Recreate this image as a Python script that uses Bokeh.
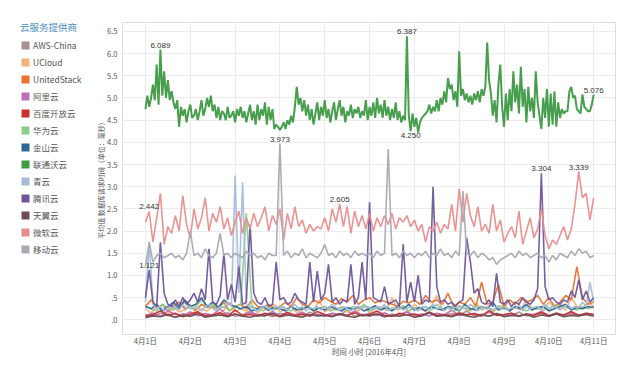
import numpy as np
from bokeh.plotting import figure
from bokeh.layouts import row
from bokeh.models import Legend, LegendItem, FixedTicker, Range1d
from bokeh.embed import file_html
from bokeh.resources import INLINE
from bokeh.core.properties import value

FONT = "Noto Sans CJK SC"

# ---------------- data ----------------
day_hours = [0, 24, 48, 72, 96, 120, 144, 168, 192, 216, 240]
day_labels = ["4月1日", "4月2日", "4月3日", "4月4日", "4月5日", "4月6日",
              "4月7日", "4月8日", "4月9日", "4月10日", "4月11日"]
y_ticks = [0, 0.5, 1.0, 1.5, 2.0, 2.5, 3.0, 3.5, 4.0, 4.5, 5.0, 5.5, 6.0, 6.5]
y_tick_labels = [".0", ".5", "1.0", "1.5", "2.0", "2.5", "3.0", "3.5", "4.0",
                 "4.5", "5.0", "5.5", "6.0", "6.5"]

providers = ["AWS-China", "UCloud", "UnitedStack", "阿里云", "百度开放云", "华为云",
             "金山云", "联通沃云", "青云", "腾讯云", "天翼云", "微软云", "移动云"]
colors = ["#a88f8f", "#f4b27f", "#e8742f", "#c06cc0", "#c8302c", "#8ccf8c",
          "#2f6693", "#3d9a45", "#a5bcd8", "#6f559c", "#6e4e52", "#ea8d8d", "#a9a9b3"]

# every 4 hours
aws_china = [0.12, 0.08, 0.15, 0.1, 0.06, 0.14, 0.09, 0.18, 0.07, 0.12, 0.1, 0.16, 0.08, 0.11, 0.2, 0.09,
             0.13, 0.07, 0.15, 0.1, 0.12, 0.08, 0.17, 0.11, 0.09, 0.14, 0.1, 0.22, 0.08, 0.12, 0.1, 0.15,
             0.07, 0.13, 0.1, 0.18, 0.09, 0.12, 0.16, 0.08, 0.11, 0.14, 0.1, 0.2, 0.09, 0.13, 0.08, 0.15,
             0.11, 0.1, 0.17, 0.09, 0.12, 0.14, 0.08, 0.16, 0.1, 0.13, 0.09, 0.15, 0.12]
# every 3 hours
ucloud = [0.25, 0.15, 0.3, 0.2, 0.12, 0.28, 0.18, 0.22, 0.35, 0.15, 0.25, 0.2, 0.3, 0.14, 0.22, 0.4,
          0.18, 0.25, 0.2, 0.32, 0.15, 0.27, 0.2, 0.35, 0.18, 0.24, 0.3, 0.16, 0.22, 0.28, 0.2, 0.45,
          0.18, 0.25, 0.22, 0.3, 0.17, 0.26, 0.2, 0.33, 0.15, 0.25, 0.3, 0.2, 0.5, 0.22, 0.28, 0.18,
          0.35, 0.24, 0.2, 0.3, 0.55, 0.22, 0.27, 0.18, 0.32, 0.25, 0.2, 0.38, 0.22, 0.3, 0.18, 0.26,
          0.35, 0.2, 0.28, 0.22, 0.45, 0.25, 0.3, 0.2, 0.4, 0.28, 0.35, 0.22, 0.5, 0.3, 0.25, 0.4, 0.3]
unitedstack = [0.3, 0.45, 0.25, 0.35, 0.2, 0.3, 0.4, 0.25, 0.3, 0.22, 0.35, 0.28, 0.3, 0.25, 0.4, 0.2,
               0.3, 0.35, 0.25, 0.45, 0.3, 0.28, 0.35, 0.25, 0.3, 0.4, 0.3, 0.5, 0.35, 0.3, 0.45, 0.38,
               0.5, 0.42, 0.35, 0.48, 0.4, 0.55, 0.35, 0.45, 0.5, 0.38, 0.45, 0.4, 0.35, 0.3, 0.42, 0.38,
               0.45, 0.35, 0.55, 0.4, 0.45, 0.35, 0.6, 0.3, 0.4, 0.35, 0.5, 0.3, 0.85, 0.35, 0.4, 0.8,
               0.3, 0.45, 0.35, 0.5, 0.4, 0.45, 0.55, 0.35, 0.5, 0.3, 0.4, 0.55, 0.45, 1.2, 0.5, 0.35, 0.4]
# every 4 hours
aliyun = [0.1, 0.15, 0.08, 0.2, 0.12, 0.1, 0.18, 0.09, 0.14, 0.11, 0.25, 0.1, 0.13, 0.08, 0.16, 0.12,
          0.1, 0.19, 0.09, 0.14, 0.11, 0.17, 0.08, 0.13, 0.1, 0.15, 0.12, 0.09, 0.2, 0.11, 0.14, 0.1,
          0.16, 0.08, 0.12, 0.18, 0.1, 0.13, 0.09, 0.15, 0.11, 0.22, 0.1, 0.12, 0.14, 0.09, 0.17, 0.11,
          0.1, 0.15, 0.08, 0.13, 0.12, 0.19, 0.1, 0.14, 0.09, 0.16, 0.11, 0.13, 0.1]
baidu = [0.08, 0.12, 0.2, 0.1, 0.15, 0.07, 0.13, 0.18, 0.09, 0.11, 0.16, 0.08, 0.22, 0.1, 0.12, 0.09,
         0.15, 0.11, 0.08, 0.17, 0.1, 0.13, 0.09, 0.19, 0.12, 0.08, 0.14, 0.1, 0.16, 0.09, 0.12, 0.2,
         0.1, 0.08, 0.15, 0.11, 0.13, 0.09, 0.18, 0.1, 0.12, 0.08, 0.16, 0.11, 0.14, 0.09, 0.21, 0.1,
         0.12, 0.15, 0.08, 0.13, 0.1, 0.17, 0.09, 0.14, 0.11, 0.19, 0.1, 0.15, 0.12]
# every 3 hours
huawei = [0.3, 0.25, 0.2, 0.35, 0.28, 0.22, 0.3, 0.4, 0.25, 0.3, 0.45, 0.28, 0.35, 0.25, 0.3, 0.22,
          0.28, 0.35, 2.4, 0.3, 0.25, 0.2, 0.28, 0.22, 0.3, 0.25, 0.2, 0.28, 0.24, 0.3, 0.22, 0.26,
          0.3, 0.2, 0.25, 0.28, 0.22, 0.3, 0.25, 0.35, 0.2, 0.28, 0.24, 0.3, 0.22, 0.25, 0.32, 0.2,
          0.28, 0.25, 0.3, 0.22, 0.35, 0.25, 0.28, 0.2, 0.3, 0.26, 0.22, 0.3, 0.25, 0.28, 0.2, 0.32,
          0.25, 0.22, 0.3, 0.27, 0.2, 0.28, 0.24, 0.3, 0.22, 0.35, 0.25, 0.3, 0.28, 0.22, 0.3, 0.25, 0.3]
kingsoft = [0.3, 0.25, 0.35, 0.2, 0.3, 0.4, 0.25, 0.45, 0.3, 0.35, 0.5, 0.3, 0.4, 0.28, 0.45, 0.35,
            0.3, 0.25, 0.3, 0.2, 0.25, 0.3, 0.22, 0.28, 0.25, 0.2, 0.3, 0.22, 0.25, 0.3, 0.2, 0.27,
            0.22, 0.3, 0.25, 0.2, 0.28, 0.24, 0.3, 0.2, 0.25, 0.32, 0.22, 0.28, 0.2, 0.3, 0.25, 0.35,
            0.22, 0.28, 0.2, 0.3, 0.25, 0.22, 0.3, 0.27, 0.2, 0.35, 0.25, 0.22, 0.3, 0.25, 0.4, 0.22,
            0.28, 0.2, 0.3, 0.25, 0.35, 0.22, 0.28, 0.3, 0.2, 0.25, 0.3, 0.35, 0.22, 0.28, 0.25, 0.3, 0.28]
# every hour
unicom = [4.75, 5.05, 4.8, 5.0, 5.3, 4.95, 5.75, 4.85, 6.089, 5.05, 5.6, 5.0, 5.4,
          4.95, 5.15, 4.9, 4.75, 4.95, 4.35, 4.8, 4.6, 4.75, 4.45, 4.7, 4.85,
          4.55, 4.6, 4.75, 4.5, 4.7, 4.95, 4.6, 4.75, 5.0, 4.8, 5.05, 4.7,
          4.85, 4.55, 4.8, 4.5, 4.7, 4.65, 4.5, 4.8, 4.55, 4.6, 4.7, 4.45,
          4.75, 4.6, 4.8, 4.55, 4.7, 4.45, 4.65, 4.85, 4.5, 4.7, 4.4, 4.85,
          4.5, 4.75, 4.6, 4.9, 4.4, 4.8, 4.5, 4.75, 4.3, 4.4, 4.35, 4.28,
          4.35, 4.45, 4.3, 4.5, 4.4, 4.6, 4.45, 4.8, 5.25, 4.85, 5.0, 4.7,
          4.95, 4.6, 4.85, 4.5, 4.75, 4.4, 4.65, 4.9, 4.5, 4.8, 4.6, 4.95,
          4.55, 4.75, 4.45, 4.7, 4.9, 4.5, 4.75, 4.95, 4.6, 4.8, 4.45, 4.7,
          4.6, 4.85, 4.55, 4.75, 4.65, 4.8, 4.55, 4.7, 4.6, 4.95, 4.5, 4.8,
          4.6, 4.9, 4.55, 5.0, 4.65, 4.85, 4.55, 4.95, 4.6, 4.8, 4.5, 4.75,
          4.55, 4.9, 4.5, 4.7, 4.45, 4.6, 4.5, 6.387, 4.6, 4.25, 4.65, 4.35,
          4.55, 4.22, 4.45, 4.55, 4.6, 4.65, 4.7, 4.85, 4.65, 4.8, 4.7, 4.95,
          4.7, 5.0, 4.85, 5.15, 4.9, 5.45, 5.2, 5.3, 4.95, 5.15, 4.8, 6.05,
          5.05, 5.2, 4.95, 5.1, 4.9, 5.05, 4.85, 5.1, 4.95, 5.15, 4.9, 5.2,
          5.05, 5.25, 6.25, 5.4, 5.1, 4.6, 4.95, 4.45, 5.3, 5.75, 4.8, 4.35,
          5.1, 4.5, 5.2, 4.7, 5.6, 4.9, 5.3, 4.65, 5.7, 4.8, 5.2, 4.45,
          5.25, 4.7, 5.0, 4.55, 5.6, 4.9, 4.6, 4.3, 5.0, 4.55, 5.2, 4.35,
          5.1, 4.4, 5.15, 4.35, 4.9, 4.55, 4.75, 4.65, 4.7, 4.7, 5.15, 5.25,
          5.0, 5.05, 4.75, 4.7, 4.65, 5.08, 4.8, 4.75, 4.7, 4.7, 4.85, 5.076]
# every 2 hours
qingcloud = [0.4, 1.75, 0.35, 0.25, 0.3, 0.2, 0.28, 0.25, 0.3, 0.22, 0.35, 0.25,
             0.3, 0.25, 0.28, 0.2, 0.3, 0.35, 0.25, 0.22, 0.3, 0.28, 0.4, 0.3,
             3.25, 0.6, 3.1, 0.35, 0.3, 0.25, 0.2, 0.28, 0.3, 0.25, 0.22, 0.3,
             0.25, 0.3, 0.22, 0.28, 0.35, 0.25, 0.3, 0.2, 0.28, 0.25, 0.3, 0.22,
             0.3, 0.25, 0.35, 0.28, 0.22, 0.3, 0.25, 0.2, 0.28, 0.3, 0.25, 0.32,
             0.28, 0.22, 0.3, 0.25, 0.35, 0.2, 0.28, 0.25, 0.3, 0.22, 0.26, 0.3,
             0.25, 0.2, 0.3, 0.28, 0.22, 0.35, 0.25, 0.3, 0.2, 0.28, 0.25, 0.3,
             0.22, 0.3, 0.25, 0.35, 0.28, 0.2, 0.3, 0.25, 0.28, 0.22, 0.3, 0.25,
             0.3, 0.22, 0.28, 0.25, 0.35, 0.2, 0.3, 0.25, 0.28, 0.3, 0.22, 0.35,
             0.25, 0.3, 0.28, 0.22, 0.3, 0.35, 0.25, 0.3, 0.28, 0.4, 0.3, 0.85,
             0.4]
tencent = [0.5, 1.121, 0.4, 0.3, 1.75, 0.6, 0.35, 0.3, 0.45, 0.3, 0.5, 0.35,
           0.45, 0.6, 0.4, 0.7, 0.45, 1.6, 0.4, 0.35, 0.55, 1.5, 0.45, 0.8,
           0.4, 1.2, 0.35, 0.4, 2.15, 0.6, 0.4, 0.35, 0.5, 0.3, 0.35, 1.3,
           0.45, 0.5, 0.35, 0.4, 0.6, 0.45, 0.4, 0.35, 1.3, 0.4, 1.1, 0.45,
           0.6, 1.25, 0.4, 0.5, 0.35, 0.45, 0.4, 1.25, 0.35, 0.5, 1.3, 0.45,
           2.65, 0.5, 0.45, 0.4, 0.75, 0.35, 0.4, 0.45, 0.3, 1.7, 0.4, 0.85,
           0.4, 1.0, 0.35, 0.45, 0.4, 3.0, 0.75, 0.4, 0.45, 0.35, 0.4, 0.3,
           0.4, 0.45, 1.85, 1.3, 0.6, 0.7, 0.4, 0.35, 0.45, 0.3, 1.05, 0.4,
           0.35, 0.45, 0.3, 0.4, 0.35, 0.5, 0.4, 0.35, 0.45, 0.7, 3.304, 0.75,
           0.45, 0.5, 0.4, 0.35, 0.45, 0.4, 0.65, 0.5, 0.9, 0.45, 0.65, 0.4,
           0.5]
# every 4 hours
tianyi = [0.05, 0.09, 0.07, 0.12, 0.06, 0.1, 0.08, 0.14, 0.06, 0.09, 0.11, 0.07, 0.13, 0.08, 0.06, 0.1,
          0.09, 0.15, 0.07, 0.11, 0.08, 0.06, 0.12, 0.09, 0.1, 0.07, 0.14, 0.08, 0.06, 0.11, 0.09, 0.13,
          0.07, 0.1, 0.08, 0.12, 0.06, 0.09, 0.16, 0.08, 0.1, 0.07, 0.13, 0.09, 0.06, 0.11, 0.08, 0.14,
          0.07, 0.1, 0.09, 0.12, 0.06, 0.11, 0.08, 0.13, 0.07, 0.1, 0.09, 0.12, 0.08]
# every 2 hours
azure = [2.2, 2.442, 1.75, 2.3, 2.85, 1.7, 2.1, 1.95, 2.35, 2.0, 2.8, 2.15,
         1.85, 2.5, 2.05, 2.3, 2.75, 2.0, 2.4, 2.2, 2.55, 2.05, 2.3, 1.9,
         2.2, 2.45, 1.95, 2.3, 2.05, 2.4, 2.1, 2.3, 2.55, 2.0, 2.35, 2.15,
         2.5, 1.8, 2.4, 2.05, 2.55, 2.1, 2.25, 1.95, 2.15, 2.0, 2.1, 2.05,
         2.3, 2.0, 2.5, 2.2, 2.605, 2.1, 2.55, 1.95, 2.45, 2.1, 2.35, 2.05,
         2.4, 2.0, 2.3, 2.1, 2.35, 2.15, 2.4, 2.05, 2.3, 2.2, 2.35, 2.1,
         2.25, 2.0, 2.15, 1.75, 2.1, 2.0, 2.2, 1.95, 2.15, 2.05, 2.6, 2.0,
         2.95, 2.2, 2.85, 2.35, 2.1, 2.55, 2.0, 2.15, 1.95, 2.6, 2.0, 2.25,
         1.75, 1.95, 2.1, 1.85, 2.45, 1.7, 2.0, 2.3, 1.85, 2.05, 2.5, 1.9,
         1.6, 1.8, 1.7, 1.9, 2.1, 1.8, 2.05, 2.6, 3.339, 2.75, 2.85, 2.25,
         2.75]
cmcc = [1.2, 1.75, 1.3, 1.45, 1.5, 1.4, 1.45, 1.5, 1.4, 1.45, 1.35, 1.5,
        2.0, 1.45, 1.5, 1.4, 1.6, 1.45, 1.4, 1.5, 1.95, 1.45, 1.5, 1.4,
        1.5, 1.45, 1.4, 1.55, 1.45, 1.5, 1.4, 1.45, 1.35, 1.5, 1.45, 1.45,
        3.973, 1.45, 1.55, 1.4, 1.5, 1.45, 1.6, 1.4, 1.5, 1.45, 1.4, 1.5,
        1.7, 1.45, 1.5, 1.4, 1.55, 1.45, 1.5, 1.4, 1.55, 1.45, 1.5, 1.45,
        1.5, 1.4, 1.55, 1.45, 1.5, 3.85, 1.45, 1.5, 1.4, 1.55, 1.45, 1.5,
        1.4, 1.5, 1.45, 1.55, 1.4, 1.5, 1.45, 1.6, 1.45, 1.5, 1.4, 1.55,
        1.45, 2.9, 1.5, 1.45, 1.55, 1.4, 1.5, 1.45, 1.35, 1.4, 1.25, 1.35,
        1.4, 1.45, 1.5, 1.4, 1.55, 1.45, 1.5, 1.4, 1.45, 1.5, 1.4, 1.45,
        1.3, 1.45, 1.35, 1.5, 1.45, 1.4, 1.55, 1.45, 1.6, 1.5, 1.55, 1.4,
        1.45]

series_values = [aws_china, ucloud, unitedstack, aliyun, baidu, huawei, kingsoft,
                 unicom, qingcloud, tencent, tianyi, azure, cmcc]

# annotated points: (provider, hour, placed below?)
ann_provider = ["联通沃云", "联通沃云", "联通沃云", "联通沃云", "移动云", "微软云",
                "微软云", "微软云", "腾讯云", "腾讯云"]
ann_hour = [8, 140, 142, 240, 72, 2, 104, 232, 2, 212]
ann_below = [False, False, True, False, False, False, False, False, False, False]

LEG_W = 92

# ---------------- main figure ----------------
p = figure(width=640 - LEG_W, height=376, output_backend="svg", toolbar_location=None,
           x_range=Range1d(-12.3, 251.7), y_range=Range1d(-0.33, 6.70),
           min_border_left=122 - LEG_W, min_border_right=25, min_border_top=22,
           min_border_bottom=42)
p.background_fill_color = "white"
p.border_fill_color = "white"
p.outline_line_color = "#dedede"

for ax in (p.xaxis[0], p.yaxis[0]):
    ax.axis_line_color = None
    ax.major_tick_line_color = None
    ax.minor_tick_line_color = None
    ax.major_tick_out = 0
    ax.major_tick_in = 0
    ax.minor_tick_out = 0
    ax.minor_tick_in = 0
    ax.major_label_text_font = FONT
    ax.major_label_text_color = "#555555"
    ax.major_label_text_font_size = "7.5px"
    ax.axis_label_text_font = FONT
    ax.axis_label_text_color = "#555555"
    ax.axis_label_text_font_size = "7.5px"
    ax.axis_label_text_font_style = "normal"

p.xaxis.ticker = FixedTicker(ticks=day_hours)
p.xaxis.major_label_overrides = {h: l for h, l in zip(day_hours, day_labels)}
p.xaxis.axis_label = "时间 小时 [2016年4月]"
p.xaxis.major_label_standoff = 0
p.xaxis.axis_label_standoff = -3

p.yaxis.ticker = FixedTicker(ticks=y_ticks)
p.yaxis.major_label_overrides = {t: l for t, l in zip(y_ticks, y_tick_labels)}
p.yaxis.axis_label = "平均值 数据库请求时间（单位：毫秒）"
p.yaxis.major_label_standoff = 5
p.yaxis.axis_label_standoff = -2
p.yaxis.axis_label_text_font_size = "7px"

p.xgrid.ticker = FixedTicker(ticks=day_hours)
p.ygrid.ticker = FixedTicker(ticks=y_ticks)
p.xgrid.grid_line_color = "#ececec"
p.ygrid.grid_line_color = "#ececec"

# ---------------- legend figure ----------------
lf = figure(width=LEG_W, height=376, output_backend="svg", toolbar_location=None,
            title=None, x_range=Range1d(0, 1), y_range=Range1d(0, 1),
            x_axis_location=None, y_axis_location=None,
            min_border_left=0, min_border_right=0, min_border_top=0, min_border_bottom=0)
lf.frame_align = False
lf.outline_line_color = None
lf.xgrid.visible = False
lf.ygrid.visible = False
lf.background_fill_color = "white"
lf.border_fill_color = "white"

items = []
for name, col, vals in zip(providers, colors, series_values):
    hrs = np.linspace(0, 240, len(vals))
    lw = 2.0 if name == "联通沃云" else 1.6
    p.line(hrs, vals, line_color=col, line_width=lw, line_alpha=0.95)
    # legend swatch only: a square glyph with no drawable position
    sw = lf.quad(left=[np.nan], right=[np.nan], top=[np.nan], bottom=[np.nan],
                 fill_color=col, line_color=None)
    items.append(LegendItem(label=name, renderers=[sw]))

# annotations
ax_, ay_, at_ = [], [], []
bx_, by_, bt_ = [], [], []
for prov, h, below in zip(ann_provider, ann_hour, ann_below):
    vals = series_values[providers.index(prov)]
    idx = int(round(h * (len(vals) - 1) / 240))
    v = vals[idx]
    xh = 240 * idx / (len(vals) - 1)
    if below:
        bx_.append(xh); by_.append(v); bt_.append(f"{v:.3f}")
    else:
        ax_.append(xh); ay_.append(v); at_.append(f"{v:.3f}")

p.text(x=ax_, y=ay_, text=at_, text_align="center", text_baseline="bottom",
       y_offset=-2, text_font=value("Liberation Sans"), text_font_size="8px",
       text_color="#333333")
p.text(x=bx_, y=by_, text=bt_, text_align="center", text_baseline="top",
       y_offset=2, text_font=value("Liberation Sans"), text_font_size="8px",
       text_color="#333333")

legend = Legend(items=items, location="top_left", title="云服务提供商")
legend.title_text_font = FONT
legend.title_text_font_size = "9.5px"
legend.title_text_color = "#4a8ec2"
legend.title_text_font_style = "normal"
legend.title_standoff = 5
legend.label_text_font = FONT
legend.label_text_font_size = "8.5px"
legend.label_text_color = "#555555"
legend.glyph_width = 10
legend.glyph_height = 10
legend.label_height = 11
legend.label_standoff = 3
legend.spacing = 5
legend.padding = 0
legend.margin = 20
legend.border_line_color = None
legend.background_fill_alpha = 0
lf.add_layout(legend)

layout = row(lf, p)
open("out.html", "w").write(file_html(layout, INLINE))
